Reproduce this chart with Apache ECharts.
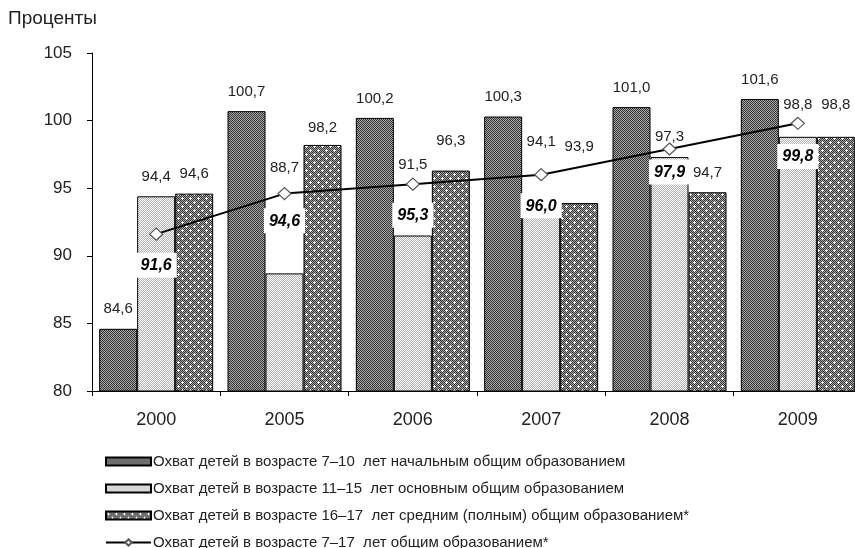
<!DOCTYPE html>
<html>
<head>
<meta charset="utf-8">
<script src="https://cdn.jsdelivr.net/npm/echarts@6/dist/echarts.min.js"></script>
<style>
html,body{margin:0;padding:0;background:#fff;}
#chart{width:855px;height:548px;}
</style>
</head>
<body>
<div id="chart"></div>
<script>
// ---- data ----
const categories = ['2000', '2005', '2006', '2007', '2008', '2009'];
const seriesNames = [
  'Охват детей в возрасте 7–10  лет начальным общим образованием',
  'Охват детей в возрасте 11–15  лет основным общим образованием',
  'Охват детей в возрасте 16–17  лет средним (полным) общим образованием*',
  'Охват детей в возрасте 7–17  лет общим образованием*'
];
const primary7to10 = [84.6, 100.7, 100.2, 100.3, 101.0, 101.6];
const basic11to15 = [94.4, 88.7, 91.5, 94.1, 97.3, 98.8];
const secondary16to17 = [94.6, 98.2, 96.3, 93.9, 94.7, 98.8];
const general7to17 = [91.6, 94.6, 95.3, 96.0, 97.9, 99.8];
const yTicks = {min: 80, max: 105, interval: 5};

// ---- label placement (pixels, style only) ----
const baseDist = 12;
const liftBasic = [0, 86, 51, 39, 1, 12];
const liftSecondary = [0, -2, 10, 37, 0, 12];
const lineLabelDist = [12, 8, 12, 12, 4, 14];

function mkPattern(size, draw) {
  const c = document.createElement('canvas');
  c.width = size; c.height = size;
  const ctx = c.getContext('2d');
  draw(ctx);
  return {image: c, repeat: 'repeat'};
}
function checker(ctx, n, a, b) {
  for (let y = 0; y < n; y++) for (let x = 0; x < n; x++) {
    ctx.fillStyle = ((x + y) % 2 === 0) ? a : b;
    ctx.fillRect(x, y, 1, 1);
  }
}
const patDark = mkPattern(2, ctx => checker(ctx, 2, '#383838', '#a4a4a4'));
const patLight = mkPattern(2, ctx => checker(ctx, 2, '#ffffff', '#b0b0b0'));
const patDots = mkPattern(8, ctx => {
  checker(ctx, 8, '#383838', '#a4a4a4');
  ctx.fillStyle = '#ffffff';
  ctx.fillRect(1, 2, 3, 1);
  ctx.fillRect(2, 1, 1, 3);
  ctx.fillRect(5, 6, 3, 1);
  ctx.fillRect(6, 5, 1, 3);
});

const fmt = v => (typeof v === 'number' ? v : v.value).toFixed(1).replace('.', ',');
const FONT = 'Arial, "Liberation Sans", sans-serif';

function barData(values, lifts) {
  return values.map((v, i) => ({
    value: v,
    label: {distance: baseDist + (lifts ? lifts[i] : 0)}
  }));
}

function barSeries(name, values, color, lifts) {
  return {
    name: name,
    type: 'bar',
    barWidth: 38,
    barGap: '0%',
    data: barData(values, lifts),
    itemStyle: {color: color, borderColor: '#000', borderWidth: 1},
    label: {
      show: true, position: 'top', color: '#222',
      fontFamily: FONT, fontSize: 15,
      formatter: p => fmt(p.value)
    },
    emphasis: {disabled: true},
    z: 2
  };
}

const chart = echarts.init(document.getElementById('chart'), null, {renderer: 'canvas'});
chart.setOption({
  animation: false,
  backgroundColor: '#fff',
  title: {
    text: 'Проценты', left: 8, top: 9, padding: 0,
    textStyle: {fontFamily: FONT, fontSize: 19, fontWeight: 'normal', color: '#222'}
  },
  grid: {left: 92, width: 770, top: 53, height: 338, containLabel: false, outerBoundsMode: 'none'},
  xAxis: {
    type: 'category',
    data: categories,
    axisLine: {lineStyle: {color: '#000', width: 1}},
    axisTick: {show: true, length: 5, lineStyle: {color: '#000'}},
    axisLabel: {fontFamily: FONT, fontSize: 18, color: '#222', margin: 20}
  },
  yAxis: {
    type: 'value',
    min: yTicks.min, max: yTicks.max, interval: yTicks.interval,
    splitLine: {show: false},
    axisLine: {show: true, lineStyle: {color: '#000', width: 1}},
    axisTick: {show: true, length: 5, lineStyle: {color: '#000'}},
    axisLabel: {fontFamily: FONT, fontSize: 17, color: '#222', margin: 20}
  },
  legend: {
    orient: 'vertical',
    left: 105, top: 454, padding: 0,
    height: 120,
    itemWidth: 45, itemHeight: 8, itemGap: 12,
    textStyle: {fontFamily: FONT, fontSize: 15, color: '#222', padding: [0,0,0,-3]},
    data: [
      {name: seriesNames[0], icon: 'rect'},
      {name: seriesNames[1], icon: 'rect'},
      {name: seriesNames[2], icon: 'rect'},
      {name: seriesNames[3]}
    ]
  },
  series: [
    barSeries(seriesNames[0], primary7to10, patDark, null),
    barSeries(seriesNames[1], basic11to15, patLight, liftBasic),
    barSeries(seriesNames[2], secondary16to17, patDots, liftSecondary),
    {
      name: seriesNames[3],
      type: 'line',
      data: general7to17.map((v, i) => ({value: v, label: {distance: lineLabelDist[i]}})),
      symbol: 'diamond',
      symbolSize: [13, 12],
      itemStyle: {color: '#fff', borderColor: '#555', borderWidth: 1.2},
      lineStyle: {color: '#000', width: 2},
      label: {
        show: true, position: 'bottom',
        fontFamily: FONT, fontSize: 16, fontWeight: 'bold', fontStyle: 'italic',
        color: '#000', backgroundColor: '#fff', padding: [5, 5, 4, 5],
        formatter: p => fmt(p.value)
      },
      emphasis: {disabled: true},
      z: 5
    }
  ]
});
</script>
</body>
</html>
